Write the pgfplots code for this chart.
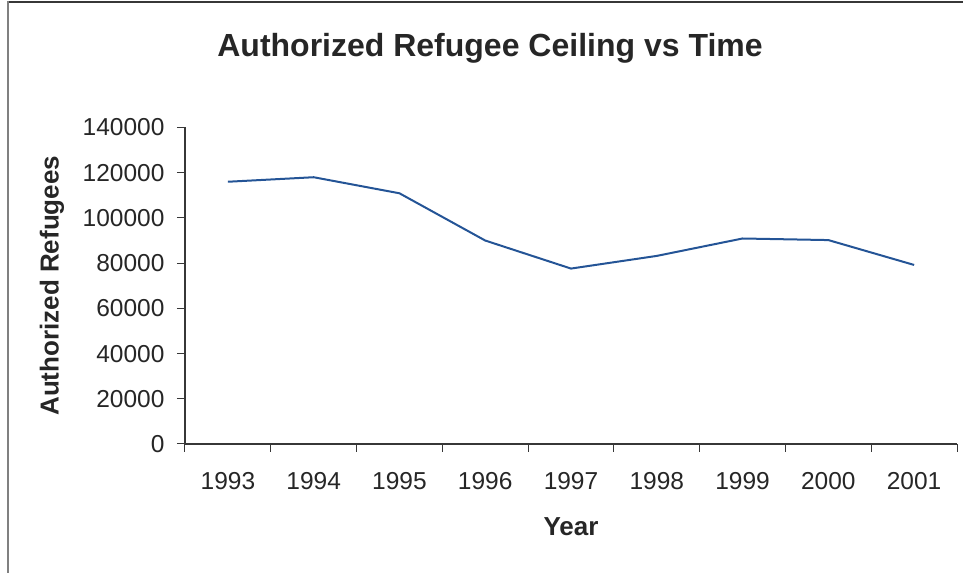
\documentclass[border=0pt]{standalone}
\usepackage{fontspec}
\setmainfont{Liberation Sans}
\usepackage{pgfplots}
\pgfplotsset{compat=1.18}
\definecolor{linenavy}{RGB}{36,84,150}
\definecolor{axisgray}{RGB}{55,55,55}
\begin{document}
\begin{tikzpicture}[x=1bp,y=1bp]
\useasboundingbox (-185,-129) rectangle (778,444);
% frame lines (top and left)
\draw[axisgray, line width=2bp] (-177,442) -- (778,442);
\draw[gray, line width=1.2bp] (-177,443) -- (-177,-129);
% title
\node[font=\bfseries\fontsize{32bp}{36bp}\selectfont, anchor=base, text=black!85] at (305,387) {Authorized Refugee Ceiling vs Time};
\begin{axis}[
  at={(0,0)}, anchor=south west,
  scale only axis, width=772bp, height=316.5bp,
  xmin=-0.5, xmax=8.5, ymin=0, ymax=140000,
  axis lines=left,
  axis line style={-, axisgray, line width=1.2bp},
  tick align=outside,
  xtick={0,...,8},
  xticklabels={1993,1994,1995,1996,1997,1998,1999,2000,2001},
  major x tick style={draw=none},
  minor xtick={-0.5,0.5,...,8.5},
  minor tick length=8bp, major tick length=8bp,
  every tick/.style={axisgray, line width=1bp},
  minor x tick style={axisgray, line width=1bp},
  ytick={0,20000,...,140000},
  scaled y ticks=false,
  yticklabel style={/pgf/number format/fixed, /pgf/number format/1000 sep={}, xshift=-9bp},
  xticklabel style={yshift=-17bp},
  /pgf/number format/assume math mode=true,
  ticklabel style={font=\fontsize{24.5bp}{28bp}\selectfont, text=black!85},
  xlabel={Year}, ylabel={Authorized Refugees},
  label style={font=\bfseries\fontsize{26bp}{30bp}\selectfont, text=black!85},
  xlabel style={at={(axis description cs:0.5,-0.262)}, anchor=center},
  ylabel style={at={(axis description cs:-0.1723,0.5)}, anchor=center},
  clip=false,
]
\addplot[linenavy, line width=2bp] coordinates {
  (0,116000) (1,118000) (2,110900) (3,90000) (4,77600)
  (5,83200) (6,90900) (7,90200) (8,79200)
};
\end{axis}
\end{tikzpicture}
\end{document}
